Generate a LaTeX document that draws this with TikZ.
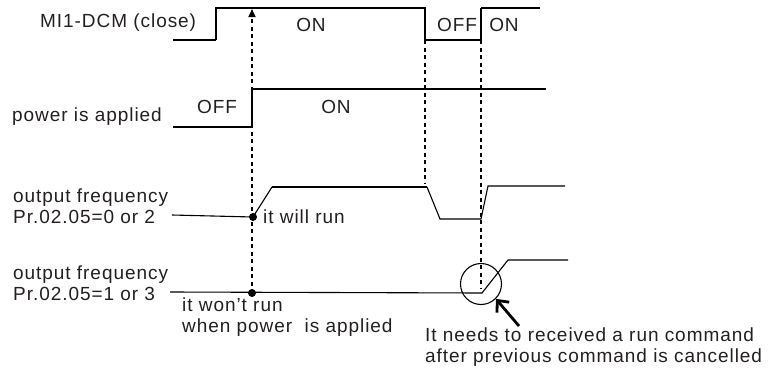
\documentclass[tikz,border=0pt]{standalone}
\usepackage{fontspec}
\setmainfont{Liberation Sans}[LetterSpace=5]
\usetikzlibrary{arrows.meta}
\definecolor{inkText}{HTML}{231F20}

\begin{document}
\begin{tikzpicture}[x=1pt,y=-1pt,
  lbl/.style={font=\fontsize{19}{21}\selectfont,text=inkText,inner sep=0pt},
  lbll/.style={lbl,anchor=west,align=left},
  wave/.style={line width=1.1pt},
  wavemid/.style={line width=1.7pt},
  wavebold/.style={line width=2.4pt},
  guide/.style={line width=1.6pt,dash pattern=on 4pt off 3.5pt},
  dotn/.style={circle,fill=black,minimum size=8pt,inner sep=0pt},
  ring/.style={circle,draw,line width=1.1pt,minimum size=41pt,inner sep=0pt},
  bigarr/.style={line width=2.8pt,-{Straight Barb[length=9pt,width=16pt]}},
]
\useasboundingbox (0,0) rectangle (770,372);

% ---- signal names -------------------------------------------------------
\node[lbll] (mLbl) at (40,23)     {MI1-DCM (close)};
\node[lbll] (pLbl) at (12,117)    {power is applied};
\node[lbll] (fLbl1) at (13,206.5) {output frequency\\Pr.02.05=0 or 2};
\node[lbll] (fLbl2) at (13,283.5) {output frequency\\Pr.02.05=1 or 3};

% ---- MI1-DCM ------------------------------------------------------------
\draw[wavebold] (173,40) -- (216,40);
\draw[wave] (216,40) -- (216,8) -- (425,8) -- (425,40);
\draw[wavebold] (425,40) -- (481,40);
\draw[wave] (481,40) -- (481,8);
\draw[wavebold] (481,8) -- (540,8);
\node[lbl] (mOn)  at (311,25) {ON};
\node[lbl] (mOff) at (457,25) {OFF};
\node[lbl] (mOn2) at (504,25) {ON};

% ---- power --------------------------------------------------------------
\draw[wavemid] (173,127) -- (252,127);
\draw[wave] (252,127) -- (252,89) -- (546,89);
\node[lbl] (pOff) at (217,107) {OFF};
\node[lbl] (pOn)  at (336,107) {ON};

% ---- output frequency, Pr.02.05=0 or 2 ----------------------------------
\draw[wave] (172,215) -- (253,217) -- (272,187);
\draw[wavemid] (272,187) -- (427,187);
\draw[wave] (427,187) -- (440,219) -- (481,219) -- (488,186) -- (565,186);
\node[dotn] (runDot) at (253,217) {};
\node[lbll] (runLbl) at (263,217) {it will run};

% ---- output frequency, Pr.02.05=1 or 3 ----------------------------------
\draw[wave] (170,292) -- (482,293) -- (508,260) -- (568,260);
\node[dotn] (noRunDot) at (252,293) {};
\node[lbll] (noRunLbl) at (182,317.5) {it won't run\\when power\ \ is applied};

% ---- dotted guides ------------------------------------------------------
\coordinate (gTop1) at (252,9);
\coordinate (gTop2) at (425,40);
\coordinate (gBot2) at (425,184);
\coordinate (gTop3) at (481,40);
\coordinate (gBot3) at (481,289);
\draw[guide,-{Triangle[length=8pt,width=7pt]}] (noRunDot.center) -- (gTop1);
\draw[guide] (gTop2) -- (gBot2);
\draw[guide] (gTop3) -- (gBot3);

% ---- restart note -------------------------------------------------------
\node[ring] (restart) at (481,284) {};
\coordinate (noteTail) at (519,326);
\draw[bigarr] (noteTail) -- (restart.south east);
\node[lbll] (noteLbl) at (425,347.5) {It needs to received a run command\\after previous command is cancelled};

\end{tikzpicture}
\end{document}
